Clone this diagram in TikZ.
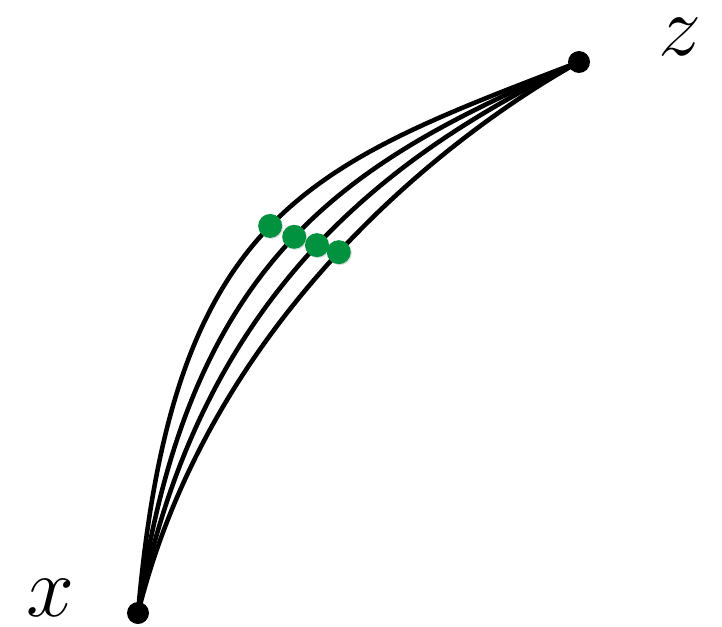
\documentclass[tikz,border=0pt]{standalone}
\usepackage{fix-cm}
\usetikzlibrary{shadows}

\definecolor{dotgreen}{RGB}{0,146,63}

\begin{document}
\begin{tikzpicture}[
    x=0.02cm, y=0.02cm,
    % --- Node styles ---
    enddot/.style = {circle, fill=black, inner sep=0pt, minimum size=0.44cm},
    gdot/.style = {circle, fill=dotgreen, inner sep=0pt, minimum size=0.48cm,
        drop shadow={opacity=0.25, shadow xshift=0.6pt, shadow yshift=-0.6pt}},
    lbl/.style = {font=\fontsize{49}{52}\selectfont, inner sep=2pt},
    % --- Curve style ---
    curve/.style = {line width=2.6pt, draw=black}
]
\useasboundingbox (0,0) rectangle (722,626);

% ==================== END POINTS ====================
\node[enddot] (px) at (138,13) {};
\node[enddot] (pz) at (579,564) {};

\node[lbl] (lx) at (50,28) {$x$};
\node[lbl] (lz) at (680,589) {$z$};

% ==================== CURVES ====================
\draw[curve] (px.center) .. controls +(85:403) and +(201:290) .. (pz.center)
    coordinate[pos=0.5] (m1);
\draw[curve] (px.center) .. controls +(82:369) and +(203.5:243) .. (pz.center)
    coordinate[pos=0.5] (m2);
\draw[curve] (px.center) .. controls +(79:338) and +(206:195) .. (pz.center)
    coordinate[pos=0.5] (m3);
\draw[curve] (px.center) .. controls +(76:307) and +(209:145) .. (pz.center)
    coordinate[pos=0.5] (m4);

% ==================== GREEN DOTS ====================
\node[gdot] (g1) at (m1) {};
\node[gdot] (g2) at (m2) {};
\node[gdot] (g3) at (m3) {};
\node[gdot] (g4) at (m4) {};

\end{tikzpicture}
\end{document}
